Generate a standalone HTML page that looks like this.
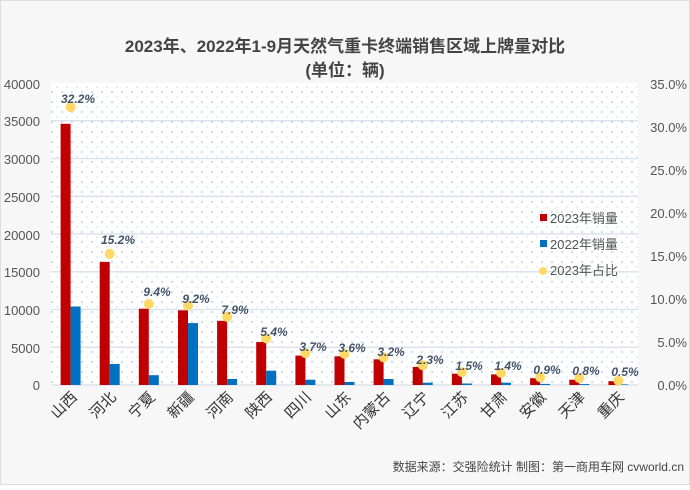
<!DOCTYPE html><html><head><meta charset="utf-8"><style>
body{margin:0;background:#fff}
svg text{font-family:"Liberation Sans","Noto Sans CJK SC",sans-serif}
</style></head><body>
<svg width="690" height="485" xmlns="http://www.w3.org/2000/svg">
<defs><pattern id="d" width="10" height="10" patternUnits="userSpaceOnUse"><rect width="10" height="10" fill="#fff"/><circle cx="2" cy="2" r="0.7" fill="#7aa8dc"/><circle cx="7" cy="7" r="0.6" fill="#a8c6e8"/></pattern></defs>
<rect x="0.5" y="0.5" width="689" height="484" fill="#f7f7f7" stroke="#ddd"/>
<text x="345" y="52" text-anchor="middle" font-size="17" font-weight="bold" fill="#444">2023年、2022年1-9月天然气重卡终端销售区域上牌量对比</text>
<text x="345" y="76" text-anchor="middle" font-size="17" font-weight="bold" fill="#444">(单位：辆)</text>
<rect x="51" y="83" width="587" height="302" fill="url(#d)"/>
<g stroke="#dde3ea" stroke-width="1.5">
<line x1="51" x2="638" y1="120.8" y2="120.8"/><line x1="51" x2="638" y1="158.5" y2="158.5"/><line x1="51" x2="638" y1="196.3" y2="196.3"/><line x1="51" x2="638" y1="234" y2="234"/><line x1="51" x2="638" y1="271.8" y2="271.8"/><line x1="51" x2="638" y1="309.5" y2="309.5"/><line x1="51" x2="638" y1="347.3" y2="347.3"/><line x1="51" x2="638" y1="385" y2="385"/></g>
<g font-size="13" fill="#555" text-anchor="end">
<text x="40" y="89">40000</text><text x="40" y="126">35000</text><text x="40" y="164">30000</text><text x="40" y="202">25000</text><text x="40" y="240">20000</text><text x="40" y="277">15000</text><text x="40" y="315">10000</text><text x="40" y="353">5000</text><text x="40" y="390">0</text></g>
<g font-size="13" fill="#555" text-anchor="end">
<text x="687" y="89">35.0%</text><text x="687" y="132">30.0%</text><text x="687" y="175">25.0%</text><text x="687" y="218">20.0%</text><text x="687" y="261">15.0%</text><text x="687" y="304">10.0%</text><text x="687" y="347">5.0%</text><text x="687" y="390">0.0%</text></g>
<g fill="#c00000">
<rect x="60.6" y="123.8" width="10" height="261.2"/>
<rect x="99.7" y="261.9" width="10" height="123.1"/>
<rect x="138.8" y="308.7" width="10" height="76.3"/>
<rect x="178" y="310.3" width="10" height="74.7"/>
<rect x="217.1" y="320.8" width="10" height="64.2"/>
<rect x="256.2" y="342" width="10" height="43"/>
<rect x="295.4" y="355.6" width="10" height="29.4"/>
<rect x="334.5" y="356.3" width="10" height="28.7"/>
<rect x="373.6" y="359.3" width="10" height="25.7"/>
<rect x="412.7" y="366.9" width="10" height="18.1"/>
<rect x="451.9" y="373.7" width="10" height="11.3"/>
<rect x="491" y="374.4" width="10" height="10.6"/>
<rect x="530.1" y="378.2" width="10" height="6.8"/>
<rect x="569.3" y="379.7" width="10" height="5.3"/>
<rect x="608.4" y="381.2" width="10" height="3.8"/>
</g>
<g fill="#0070c0">
<rect x="70.6" y="306.5" width="10" height="78.5"/>
<rect x="109.7" y="363.9" width="10" height="21.1"/>
<rect x="148.8" y="375.2" width="10" height="9.8"/>
<rect x="188" y="323.1" width="10" height="61.9"/>
<rect x="227.1" y="379" width="10" height="6"/>
<rect x="266.2" y="370.7" width="10" height="14.3"/>
<rect x="305.4" y="379.7" width="10" height="5.3"/>
<rect x="344.5" y="382" width="10" height="3"/>
<rect x="383.6" y="379" width="10" height="6"/>
<rect x="422.7" y="382.7" width="10" height="2.3"/>
<rect x="461.9" y="383.5" width="10" height="1.5"/>
<rect x="501" y="382.7" width="10" height="2.3"/>
<rect x="540.1" y="383.9" width="10" height="1.1"/>
<rect x="579.3" y="384.1" width="10" height="0.9"/>
<rect x="618.4" y="384.4" width="10" height="0.6"/>
</g>
<g fill="#ffd966">
<circle cx="70.6" cy="107.1" r="5"/><circle cx="109.7" cy="253.8" r="5"/><circle cx="148.8" cy="303.9" r="5"/><circle cx="188" cy="305.6" r="5"/><circle cx="227.1" cy="316.8" r="5"/><circle cx="266.2" cy="338.4" r="5"/><circle cx="305.4" cy="353.1" r="5"/><circle cx="344.5" cy="353.9" r="5"/><circle cx="383.6" cy="357.4" r="5"/><circle cx="422.7" cy="365.2" r="5"/><circle cx="461.9" cy="372.1" r="5"/><circle cx="501" cy="372.9" r="5"/><circle cx="540.1" cy="377.2" r="5"/><circle cx="579.3" cy="378.1" r="5"/><circle cx="618.4" cy="380.7" r="5"/>
</g>
<g font-size="12" font-weight="bold" font-style="italic" fill="#44546a" text-anchor="middle">
<text x="78" y="103">32.2%</text><text x="118" y="244">15.2%</text><text x="157" y="296">9.4%</text><text x="196" y="303">9.2%</text><text x="235" y="314">7.9%</text><text x="274" y="336">5.4%</text><text x="313" y="351">3.7%</text><text x="352" y="352">3.6%</text><text x="391" y="356">3.2%</text><text x="430" y="364">2.3%</text><text x="469" y="370">1.5%</text><text x="508" y="370">1.4%</text><text x="547" y="374">0.9%</text><text x="586" y="375">0.8%</text><text x="625" y="376">0.5%</text>
</g>
<g font-size="15" fill="#333" text-anchor="end">
<text transform="translate(78,398) rotate(-45)">山西</text>
<text transform="translate(117,398) rotate(-45)">河北</text>
<text transform="translate(156,398) rotate(-45)">宁夏</text>
<text transform="translate(195,398) rotate(-45)">新疆</text>
<text transform="translate(234,398) rotate(-45)">河南</text>
<text transform="translate(273,398) rotate(-45)">陕西</text>
<text transform="translate(312,398) rotate(-45)">四川</text>
<text transform="translate(352,398) rotate(-45)">山东</text>
<text transform="translate(391,398) rotate(-45)">内蒙古</text>
<text transform="translate(430,398) rotate(-45)">辽宁</text>
<text transform="translate(469,398) rotate(-45)">江苏</text>
<text transform="translate(508,398) rotate(-45)">甘肃</text>
<text transform="translate(547,398) rotate(-45)">安徽</text>
<text transform="translate(586,398) rotate(-45)">天津</text>
<text transform="translate(625,398) rotate(-45)">重庆</text>
</g>
<rect x="540" y="214" width="7" height="7" fill="#c00000"/><text x="550" y="223" font-size="13" fill="#555">2023年销量</text>
<rect x="540" y="240" width="7" height="7" fill="#0070c0"/><text x="550" y="249" font-size="13" fill="#555">2022年销量</text>
<circle cx="543" cy="271" r="4" fill="#ffd966"/><text x="550" y="275" font-size="13" fill="#555">2023年占比</text>
<text x="684" y="471" text-anchor="end" font-size="12" fill="#444">数据来源：交强险统计  制图：第一商用车网 cvworld.cn</text>
</svg></body></html>
